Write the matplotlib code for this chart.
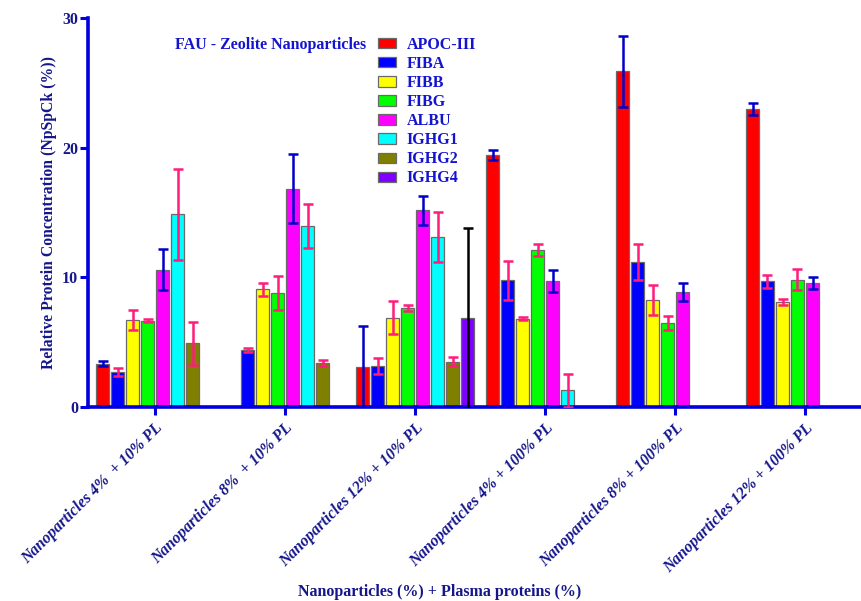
import matplotlib
matplotlib.use('Agg')
import matplotlib.pyplot as plt
import matplotlib.transforms as mtransforms
import numpy as np
from matplotlib.patches import Patch

plt.rcParams['font.family'] = ['Liberation Serif', 'DejaVu Serif']
plt.rcParams['font.weight'] = 'bold'

# groups (x categories)
groups = ['Nanoparticles 4%  + 10% PL', 'Nanoparticles 8%  + 10% PL',
          'Nanoparticles 12% + 10% PL', 'Nanoparticles 4% + 100% PL',
          'Nanoparticles 8% + 100% PL', 'Nanoparticles 12% + 100% PL']
proteins = ['APOC-III', 'FIBA', 'FIBB', 'FIBG', 'ALBU', 'IGHG1', 'IGHG2', 'IGHG4']
nan = np.nan

apoc = [3.35, nan, 3.05, 19.45, 25.9, 23.0]
apoc_err = [0.2, nan, 3.2, 0.4, 2.75, 0.48]
fiba = [2.7, 4.38, 3.17, 9.78, 11.2, 9.7]
fiba_err = [0.33, 0.15, 0.6, 1.5, 1.4, 0.5]
fibb = [6.7, 9.07, 6.9, 6.82, 8.23, 8.1]
fibb_err = [0.8, 0.5, 1.3, 0.1, 1.15, 0.2]
fibg = [6.67, 8.8, 7.62, 12.1, 6.5, 9.83]
fibg_err = [0.1, 1.34, 0.25, 0.44, 0.54, 0.83]
albu = [10.6, 16.85, 15.17, 9.72, 8.88, 9.57]
albu_err = [1.55, 2.63, 1.13, 0.83, 0.69, 0.44]
ighg1 = [14.85, 13.97, 13.12, 1.3, nan, nan]
ighg1_err = [3.53, 1.7, 1.94, 1.28, nan, nan]
ighg2 = [4.9, 3.4, 3.48, nan, nan, nan]
ighg2_err = [1.65, 0.2, 0.35, nan, nan, nan]
ighg4 = [nan, nan, 6.9, nan, nan, nan]
ighg4_err = [nan, nan, 6.94, nan, nan, nan]

values = [apoc, fiba, fibb, fibg, albu, ighg1, ighg2, ighg4]
errors = [apoc_err, fiba_err, fibb_err, fibg_err, albu_err, ighg1_err, ighg2_err, ighg4_err]

colors = ['#FF0000', '#0000FF', '#FFFF00', '#00FF00', '#FF00FF', '#00FFFF', '#808000', '#7F00FF']
err_colors = ['#0000CC', '#FF1C7A', '#FF1C7A', '#FF1C7A', '#0000CC', '#FF1C7A', '#FF1C7A', '#000000']
axis_blue = '#0000DD'
navy = '#15168A'
text_blue = '#1414D0'

fig = plt.figure(figsize=(8.61, 6.01), dpi=100)
ax = fig.add_axes([88/861, 1-407/601, 1-88/861, (407-18)/601])

x = np.arange(len(groups))
slot = 15/130
width = 12.5/130
for i, (vals, errs) in enumerate(zip(values, errors)):
    pos = x - 3.5*slot + i*slot
    ax.bar(pos, vals, width, color=colors[i], edgecolor='#6a6a6a', linewidth=0.9, zorder=2)
    ax.errorbar(pos, vals, yerr=errs, fmt='none', ecolor=err_colors[i],
                elinewidth=1.8, capsize=3.5, capthick=1.8, zorder=3)

ax.set_xlim(-67/130, (861-155)/130)
ax.set_ylim(0, 30)
ax.set_yticks([0, 10, 20, 30])
ax.set_xticks(x)
ax.set_xticklabels(groups, rotation=45, ha='right', va='top', rotation_mode='anchor',
                   fontsize=11.5, fontstyle='italic', fontweight='bold', color=navy)
shift = mtransforms.ScaledTranslation(0.02, -0.18, fig.dpi_scale_trans)
for lab in ax.get_xticklabels():
    lab.set_transform(lab.get_transform() + shift)
ax.tick_params(axis='y', labelsize=11.5, labelcolor=navy, length=6, width=2.2, color=axis_blue, pad=1)
ax.tick_params(axis='x', length=6, width=2.2, color=axis_blue)
for t in ax.get_yticklabels():
    t.set_fontweight('bold')

ax.spines['top'].set_color('none')
ax.spines['right'].set_color('none')
ax.spines['left'].set_color(axis_blue)
ax.spines['bottom'].set_color(axis_blue)
ax.spines['left'].set_linewidth(2.6)
ax.spines['bottom'].set_linewidth(2.6)

ax.set_ylabel('Relative Protein Concentration (NpSpCk (%))', fontsize=11.3, color=navy,
              fontweight='bold', labelpad=4)
fig.text(440/861, 1-592/601, 'Nanoparticles (%) + Plasma proteins (%)', fontsize=11.5,
         color=navy, fontweight='bold', ha='center', va='center')

handles = [Patch(facecolor=c, edgecolor='#6a6a6a', linewidth=0.9) for c in colors]
leg = ax.legend(handles, proteins, loc='upper left', bbox_to_anchor=(378/861, 1-37/601),
                bbox_transform=fig.transFigure, frameon=False, fontsize=11.5,
                handlelength=1.15, handleheight=0.6, labelspacing=0.19, handletextpad=0.65,
                borderpad=0, borderaxespad=0)
for t in leg.get_texts():
    t.set_color(text_blue)
    t.set_fontweight('bold')
fig.text(175/861, 1-45/601, 'FAU - Zeolite Nanoparticles', fontsize=11.5, color=text_blue,
         fontweight='bold', ha='left', va='center')

fig.savefig('out.png', dpi=100)
